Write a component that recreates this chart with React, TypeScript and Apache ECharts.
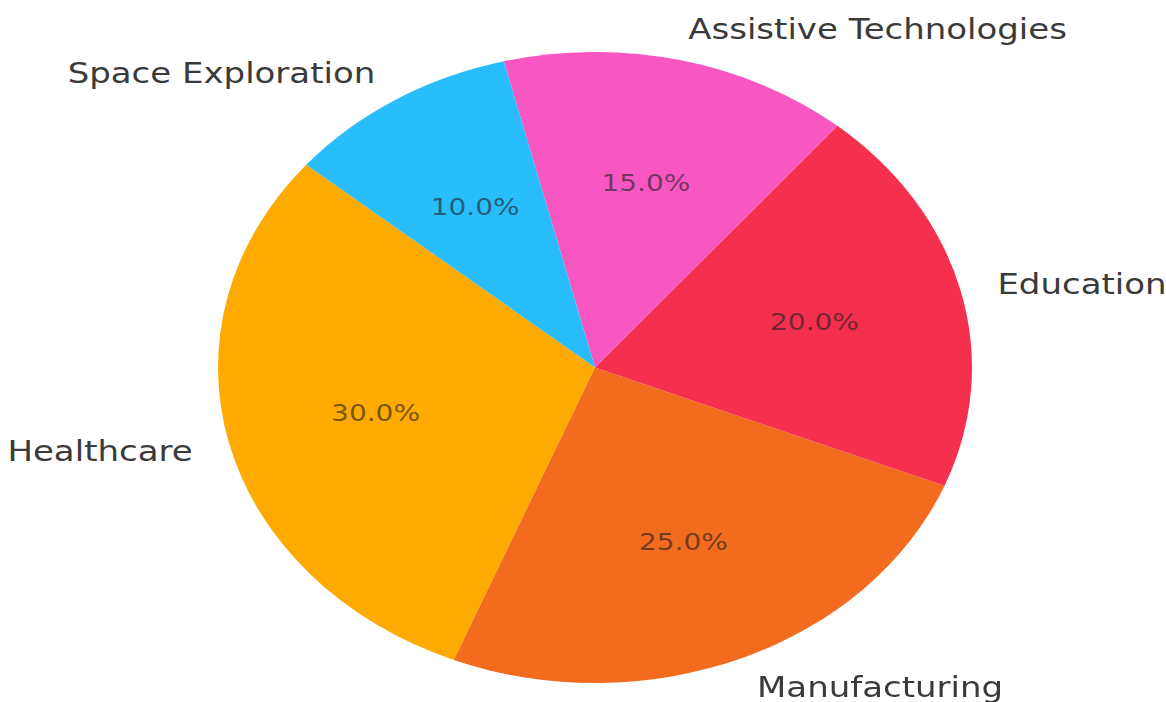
import React, { useEffect, useRef } from 'react';
import * as echarts from 'echarts';

const categories = ['Healthcare', 'Manufacturing', 'Education', 'Assistive Technologies', 'Space Exploration'];
const values = [30, 25, 20, 15, 10];
const colors = ['#FFAA00', '#F26B1F', '#F5304F', '#F857C1', '#2ABDFB'];

const W = 1166;
const VIEW_H = 702;
const CX = 595;
const CY = 367.5;
const RX = 377;
const RY = 315.5;
const SY = RY / RX;
const H = VIEW_H / SY;

export default function App() {
  const ref = useRef<HTMLDivElement>(null);
  useEffect(() => {
    if (!ref.current) return;
    const chart = echarts.init(ref.current, undefined, { renderer: 'svg', width: W, height: H });
    const data = categories.map((name, i) => ({ name, value: values[i], itemStyle: { color: colors[i] } }));
    chart.setOption({
      animation: false,
      backgroundColor: '#ffffff',
      series: [
        {
          type: 'pie',
          center: [CX, CY / SY],
          radius: [0, RX],
          startAngle: 140,
          clockwise: false,
          avoidLabelOverlap: false,
          silent: true,
          itemStyle: { borderWidth: 0 },
          label: {
            show: true,
            position: 'outside',
            distanceToLabelLine: 0,
            fontFamily: 'DejaVu Sans',
            fontSize: 34,
            color: '#3a3a3a',
            formatter: '{b}',
          },
          labelLine: { show: false, length: RX * 0.1, length2: 0 },
          data,
        },
        {
          type: 'pie',
          center: [CX, CY / SY],
          radius: [RX * 0.2 - 6, RX],
          startAngle: 140,
          clockwise: false,
          avoidLabelOverlap: false,
          silent: true,
          itemStyle: { color: 'rgba(0,0,0,0)', borderWidth: 0 },
          label: {
            show: true,
            position: 'inside',
            fontFamily: 'DejaVu Sans',
            fontSize: 28,
            color: 'rgba(30,30,30,0.62)',
            formatter: (p: any) => p.percent.toFixed(1) + '%',
          },
          labelLine: { show: false },
          data: categories.map((name, i) => ({ name, value: values[i] })),
        },
      ],
    });
    return () => chart.dispose();
  }, []);
  return (
    <div style={{ position: 'absolute', left: 0, top: 0, width: W, height: VIEW_H, overflow: 'hidden', background: '#fff' }}>
      <div
        ref={ref}
        style={{ width: W, height: H, transform: `scaleY(${SY})`, transformOrigin: '0 0' }}
      />
    </div>
  );
}
